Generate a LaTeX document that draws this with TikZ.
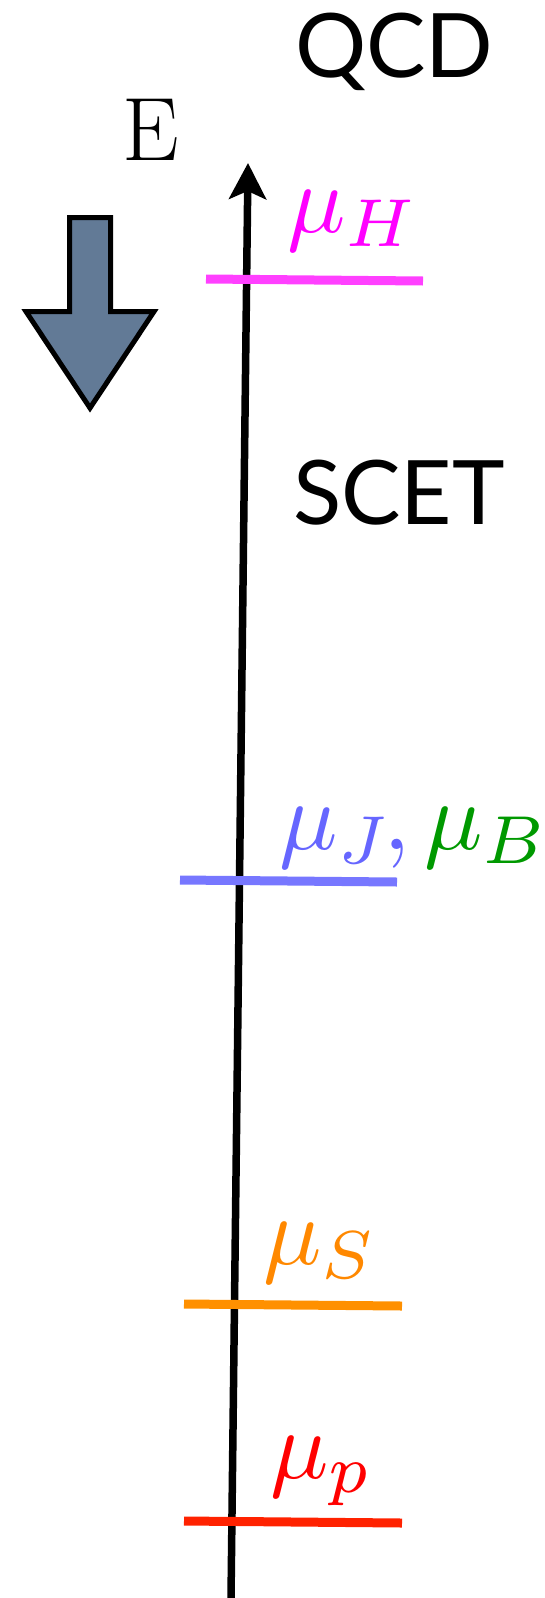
\documentclass[tikz,border=0pt]{standalone}
\usepackage{graphicx}
\usepackage{fontspec}
\newfontfamily\gillfont{Lato}
\usetikzlibrary{arrows.meta,positioning}

\definecolor{hardcol}{RGB}{255,0,255}
\definecolor{hardline}{RGB}{255,64,255}
\definecolor{jetcol}{RGB}{102,102,255}
\definecolor{jetline}{RGB}{119,119,255}
\definecolor{beamcol}{RGB}{0,153,0}
\definecolor{softcol}{RGB}{255,136,0}
\definecolor{softline}{RGB}{255,144,0}
\definecolor{pcol}{RGB}{255,0,0}
\definecolor{pline}{RGB}{255,34,0}
\definecolor{flowcol}{RGB}{98,122,150}

\newcommand{\biglabel}[1]{\scalebox{9.7}{#1}}

\tikzset{
  level/.style={line width=9pt},
  scalelabel/.style={anchor=base west, inner sep=0pt},
  theory/.style={anchor=base west, inner sep=0pt, font=\gillfont\fontsize{89}{89}\selectfont},
}

\begin{document}
\begin{tikzpicture}[x=1pt, y=-1pt, >={Stealth[length=36pt, width=37pt, inset=8pt]}]
    \useasboundingbox (0,0) rectangle (545,1598);

    % energy axis
    \coordinate (bot) at (231,1598);
    \coordinate (top) at (248,163);
    \draw[->, line width=7.5pt] (bot) -- (top);
    \node[anchor=base west, inner sep=0pt, font=\fontsize{90}{90}\selectfont] (elabel) at (122,160) {E};

    % direction of running
    \filldraw[fill=flowcol, draw=black, line width=5pt, line join=miter]
        (69.5,217.5) -- (110.5,217.5) -- (110.5,311.5) -- (154,311.5) -- (90,408)
        -- (26,311.5) -- (69.5,311.5) -- cycle;

    % theories
    \node[theory] (qcd) at (295,77) {QCD};
    \node[theory] (scet) at (293,524) {SCET};

    % hard scale
    \coordinate (hL) at (206,279);
    \coordinate (hR) at (423,281);
    \draw[level, hardline] (hL) -- (hR);
    \node[scalelabel, text=hardcol] (muH) at (287,232) {\biglabel{$\mu_H$}};

    % jet and beam scale
    \coordinate (jL) at (180,880);
    \coordinate (jR) at (397,882);
    \draw[level, jetline] (jL) -- (jR);
    \node[scalelabel] (muJB) at (279,849) {\biglabel{$\color{jetcol}\mu_J\mkern-1.5mu,\mkern-0.5mu\color{beamcol}\mu_B$}};

    % soft scale
    \coordinate (sL) at (184,1304);
    \coordinate (sR) at (402,1306);
    \draw[level, softline] (sL) -- (sR);
    \node[scalelabel, text=softcol] (muS) at (263,1264) {\biglabel{$\mu_S$}};

    % p scale
    \coordinate (pL) at (184,1521);
    \coordinate (pR) at (402,1523);
    \draw[level, pline] (pL) -- (pR);
    \node[scalelabel, text=pcol] (mup) at (270,1478) {\biglabel{$\mu_p$}};
\end{tikzpicture}
\end{document}
